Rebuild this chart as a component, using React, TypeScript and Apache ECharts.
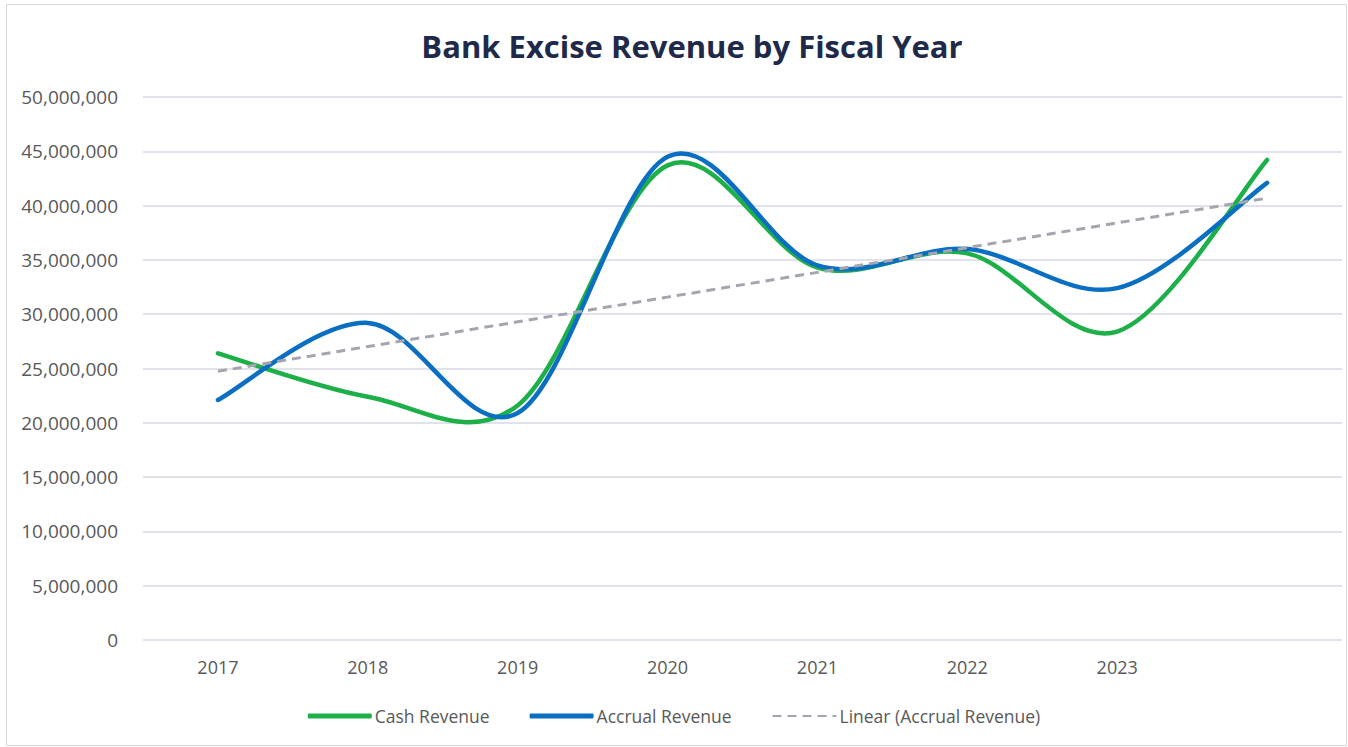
import React, { useEffect, useRef } from "react";
import * as echarts from "echarts";

const years = ["2017", "2018", "2019", "2020", "2021", "2022", "2023", ""];
const cashRevenue = [26400000, 22400000, 21600000, 43700000, 34300000, 35600000, 28400000, 44200000];
const accrualRevenue = [22100000, 29200000, 20900000, 44500000, 34500000, 36000000, 32400000, 42100000];
const yTicks = { min: 0, max: 50000000, interval: 5000000 };

const CASH_COLOR = "#1db049";
const ACCRUAL_COLOR = "#0a6fc2";
const TREND_COLOR = "#a5a5b0";

// Linear trend (least squares) of the accrual series
function linearTrend(values: number[]): number[] {
  const n = values.length;
  const mx = (n - 1) / 2;
  const my = values.reduce((a, b) => a + b, 0) / n;
  let num = 0;
  let den = 0;
  values.forEach((v, i) => {
    num += (i - mx) * (v - my);
    den += (i - mx) * (i - mx);
  });
  const slope = num / den;
  return values.map((_, i) => my + slope * (i - mx));
}
const accrualTrend = linearTrend(accrualRevenue);

const FONT = "'Open Sans', 'Noto Sans', sans-serif";

// Spreadsheet-style smoothed line (Catmull-Rom Bezier) drawn through the axis scales
function smoothRenderer(values: number[], color: string) {
  return (params: any, api: any) => {
    if (params.dataIndex !== 0) return null;
    const pts = values.map((v, i) => api.coord([i, v]));
    const get = (i: number) => pts[Math.max(0, Math.min(pts.length - 1, i))];
    let d = `M${pts[0][0]},${pts[0][1]}`;
    for (let i = 0; i < pts.length - 1; i++) {
      const p0 = get(i - 1);
      const p1 = get(i);
      const p2 = get(i + 1);
      const p3 = get(i + 2);
      const c1x = p1[0] + (p2[0] - p0[0]) / 6;
      const c1y = p1[1] + (p2[1] - p0[1]) / 6;
      const c2x = p2[0] - (p3[0] - p1[0]) / 6;
      const c2y = p2[1] - (p3[1] - p1[1]) / 6;
      d += ` C${c1x},${c1y} ${c2x},${c2y} ${p2[0]},${p2[1]}`;
    }
    return {
      type: "path",
      shape: { pathData: d },
      style: { fill: "none", stroke: color, lineWidth: 4.5, lineCap: "round", lineJoin: "round" },
    };
  };
}

export default function App() {
  const ref = useRef<HTMLDivElement>(null);
  useEffect(() => {
    if (!ref.current) return;
    const chart = echarts.init(ref.current, undefined, { renderer: "svg" });
    chart.setOption({
      animation: false,
      backgroundColor: "#ffffff",
      title: {
        text: "Bank Excise Revenue by Fiscal Year",
        left: 687,
        textAlign: "center",
        top: 25,
        textStyle: { fontFamily: FONT, fontSize: 31, fontWeight: "bold", color: "#1f2a4a" },
      },
      legend: {
        left: "center",
        top: 702,
        itemWidth: 64,
        itemHeight: 5,
        itemGap: 40,
        itemStyle: { opacity: 0 },
        textStyle: { fontFamily: FONT, fontSize: 17.5, color: "#595959", padding: [0, 0, 0, -2] },
        data: [
          { name: "Cash Revenue", icon: "roundRect", itemStyle: { opacity: 1, color: CASH_COLOR } },
          { name: "Accrual Revenue", icon: "roundRect", itemStyle: { opacity: 1, color: ACCRUAL_COLOR } },
          { name: "Linear (Accrual Revenue)" },
        ],
      },
      graphic: [
        {
          type: "rect",
          shape: { x: 6.5, y: 4.5, width: 1340, height: 741 },
          style: { fill: "none", stroke: "#d9d9d9", lineWidth: 1 },
          silent: true,
        },
      ],
      grid: { left: 143, right: 6, top: 97, bottom: 107, containLabel: false },
      xAxis: {
        type: "category",
        data: years,
        boundaryGap: true,
        axisLine: { show: false },
        axisTick: { show: false },
        axisLabel: { fontFamily: FONT, fontSize: 18, color: "#595959", margin: 18 },
      },
      yAxis: {
        type: "value",
        min: yTicks.min,
        max: yTicks.max,
        interval: yTicks.interval,
        axisLine: { show: false },
        axisTick: { show: false },
        axisLabel: {
          fontFamily: FONT,
          fontSize: 19,
          color: "#595959",
          margin: 25,
          formatter: (v: number) => v.toLocaleString("en-US"),
        },
        splitLine: { lineStyle: { color: "#d9d9e6", width: 1.5 } },
      },
      series: [
        {
          name: "Cash Revenue",
          type: "custom",
          data: cashRevenue.map((v, i) => [i, v]),
          encode: { x: 0, y: 1 },
          renderItem: smoothRenderer(cashRevenue, CASH_COLOR),
          itemStyle: { color: CASH_COLOR },
          clip: false,
          z: 2,
        },
        {
          name: "Accrual Revenue",
          type: "custom",
          data: accrualRevenue.map((v, i) => [i, v]),
          encode: { x: 0, y: 1 },
          renderItem: smoothRenderer(accrualRevenue, ACCRUAL_COLOR),
          itemStyle: { color: ACCRUAL_COLOR },
          clip: false,
          z: 3,
        },
        {
          name: "Linear (Accrual Revenue)",
          type: "line",
          data: accrualTrend,
          symbol: "none",
          lineStyle: { color: TREND_COLOR, width: 3, type: [9, 6] },
          itemStyle: { color: TREND_COLOR },
          z: 4,
        },
      ],
    });
    return () => chart.dispose();
  }, []);
  return (
    <div
      ref={ref}
      style={{ position: "fixed", left: 0, top: 0, width: 1348, height: 747, background: "#fff" }}
    />
  );
}
